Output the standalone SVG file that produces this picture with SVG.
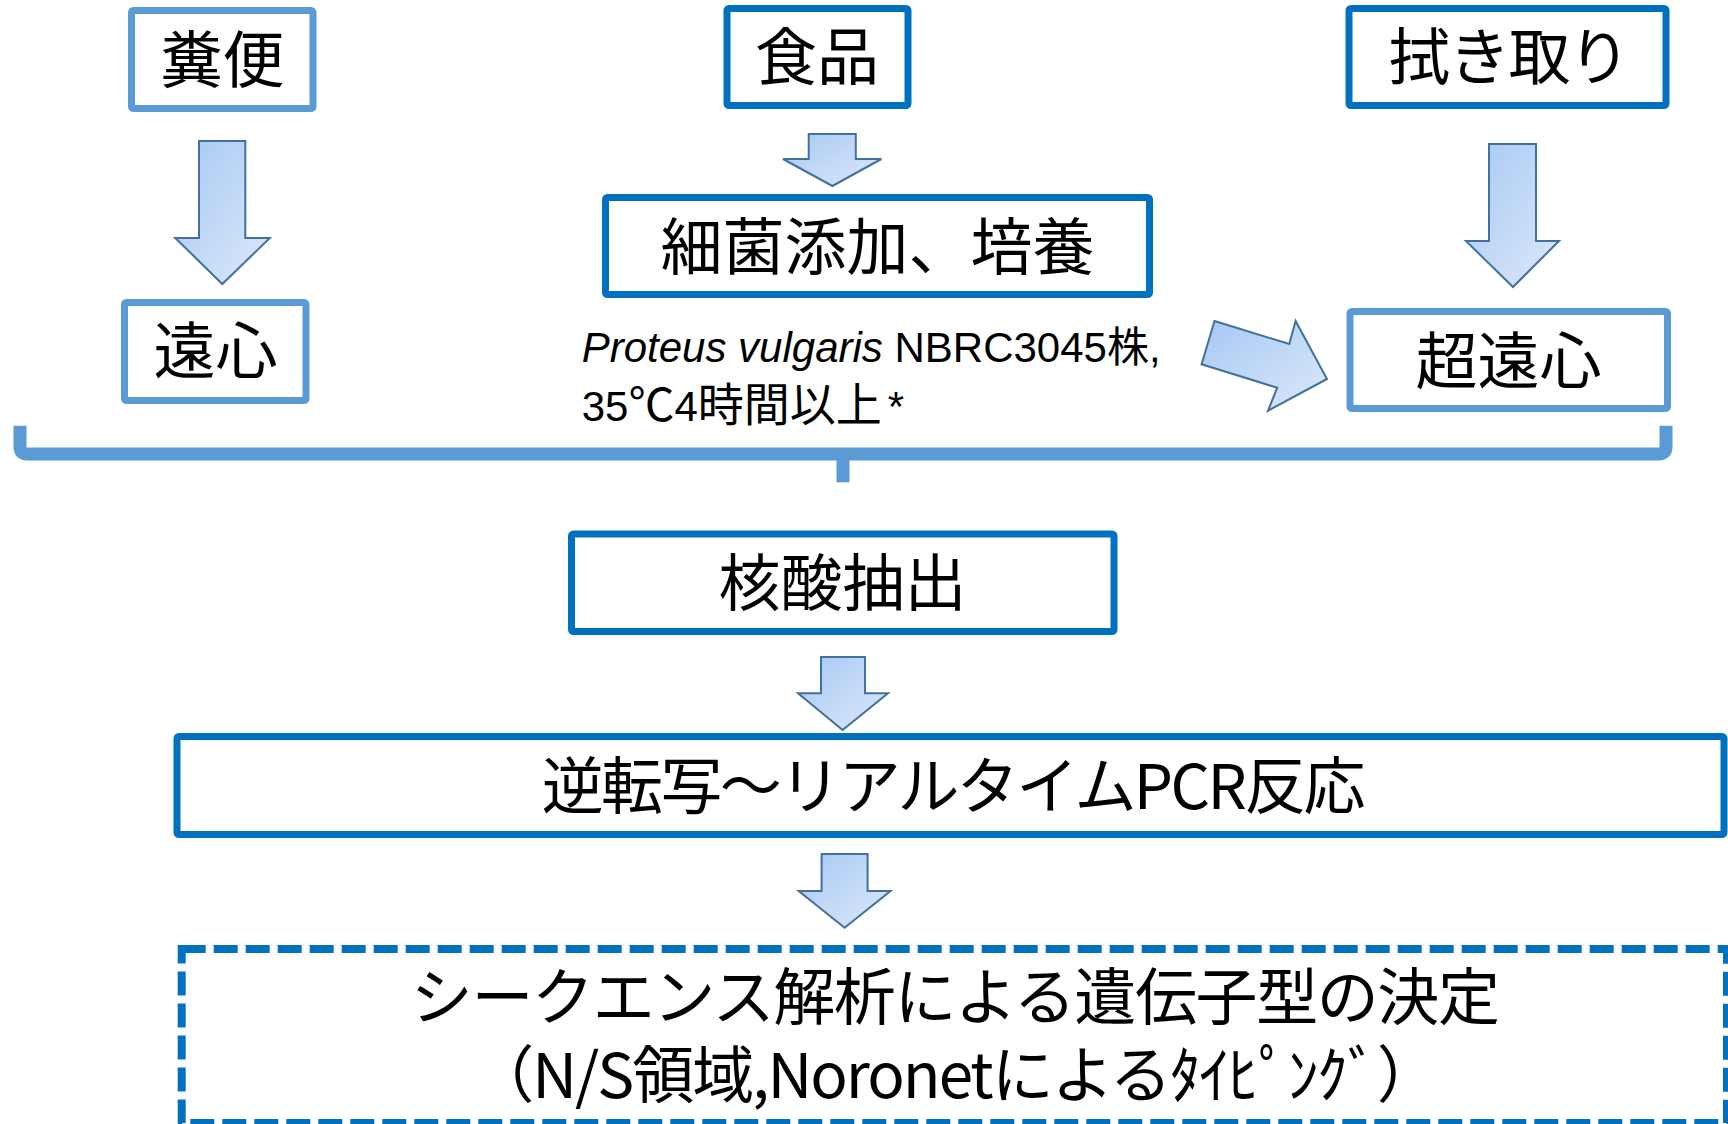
<svg xmlns="http://www.w3.org/2000/svg" width="1728" height="1124" viewBox="0 0 1728 1124">
<style>
.box{fill:#fff;stroke-width:7;}
.lt{stroke:#5B9BD5;}
.dk{stroke:#0070C0;}
.dash{fill:#fff;stroke:#0070C0;stroke-width:8;stroke-dasharray:24 8;}
.lbl{font-family:"Noto Sans CJK JP","Noto Sans CJK SC",sans-serif;font-size:62px;fill:#000;text-anchor:middle;}
.note{font-family:"Liberation Sans","Noto Sans CJK JP",sans-serif;font-size:42px;fill:#000;}
.cjk{font-size:46px;}
.arr{fill:url(#g);stroke:#41719C;stroke-width:2;stroke-linejoin:miter;}
.brace{fill:none;stroke:#5B9BD5;stroke-width:13;}
</style>
<defs>
<linearGradient id="g" x1="0" y1="0" x2="1" y2="1">
<stop offset="0" stop-color="#A6C8F4"/>
<stop offset="1" stop-color="#DDE9F9"/>
</linearGradient>
</defs>
<rect width="1728" height="1124" fill="#fff"/>

<g id="connectors">
<polygon class="arr" points="199,141 245.3,141 245.3,238 269.8,238 222.3,284 175.3,238 199,238"/>
<polygon class="arr" points="808.7,134 855.8,134 855.8,159 881.4,159 832.4,186 783,159 808.7,159"/>
<polygon class="arr" points="1489,144 1536,144 1536,241 1559,241 1513,287 1466,241 1489,241"/>
<polygon class="arr" points="1214.5,321 1289.3,344 1295.6,321 1327,379 1268,410.7 1277.2,387.7 1201.6,364.3"/>
<polygon class="arr" points="821,657 865,657 865,693.3 888,693.3 842.6,730 798,693.3 821,693.3"/>
<polygon class="arr" points="821.6,854 867.6,854 867.6,891 890.5,891 844.6,927.7 798.7,891 821.6,891"/>
<path class="brace" d="M20,425.7 V447 Q20,454 27,454 H1659 Q1666,454 1666,447 V425.7"/>
<path class="brace" d="M843,454 V482.3" stroke-width="14"/>
</g>

<g id="n-funben">
<rect class="box lt" x="131.5" y="10.5" width="181.5" height="98" rx="2"/>
<text class="lbl" x="222.5" y="83">糞便</text>
</g>
<g id="n-enshin">
<rect class="box lt" x="124.5" y="302.5" width="181.5" height="98" rx="2"/>
<text class="lbl" x="215.5" y="373.5">遠心</text>
</g>
<g id="n-shokuhin">
<rect class="box dk" x="727" y="8.5" width="181" height="97" rx="2"/>
<text class="lbl" x="817" y="79.5">食品</text>
</g>
<g id="n-baiyou">
<rect class="box dk" x="605.5" y="197.5" width="544" height="97" rx="2"/>
<text class="lbl" x="877.5" y="269.5">細菌添加、培養</text>
</g>
<g id="n-note">
<text class="note"><tspan x="581.7" y="362"><tspan font-style="italic">Proteus vulgaris</tspan> NBRC3045株,</tspan><tspan x="581.7" y="420.7">35<tspan class="cjk">℃</tspan>4<tspan class="cjk">時間以上</tspan><tspan dx="6">*</tspan></tspan></text>
</g>
<g id="n-fukitori">
<rect class="box dk" x="1349" y="8.5" width="317" height="97" rx="2"/>
<text class="lbl" x="1508.5" y="80" letter-spacing="-2">拭き取り</text>
</g>
<g id="n-choenshin">
<rect class="box lt" x="1350" y="311.5" width="317.5" height="97" rx="2"/>
<text class="lbl" x="1508.5" y="383.5">超遠心</text>
</g>
<g id="n-kakusan">
<rect class="box dk" x="571.5" y="534" width="542.5" height="97.5" rx="2"/>
<text class="lbl" x="842.5" y="606">核酸抽出</text>
</g>
<g id="n-pcr">
<rect class="box dk" x="177" y="736.5" width="1547" height="98" rx="2"/>
<text class="lbl" x="952.3" y="808.5" letter-spacing="-2.6">逆転写～リアルタイムPCR反応</text>
</g>
<g id="n-seq">
<rect class="dash" x="181.7" y="949" width="1545.3" height="174"/>
<text class="lbl"><tspan x="954.7" y="1020" letter-spacing="-1.4">シークエンス解析による遺伝子型の決定</tspan><tspan x="954.5" y="1098" letter-spacing="-2">（N/S領域,Noronetによるﾀｲﾋﾟﾝｸﾞ）</tspan></text>
</g>
</svg>
